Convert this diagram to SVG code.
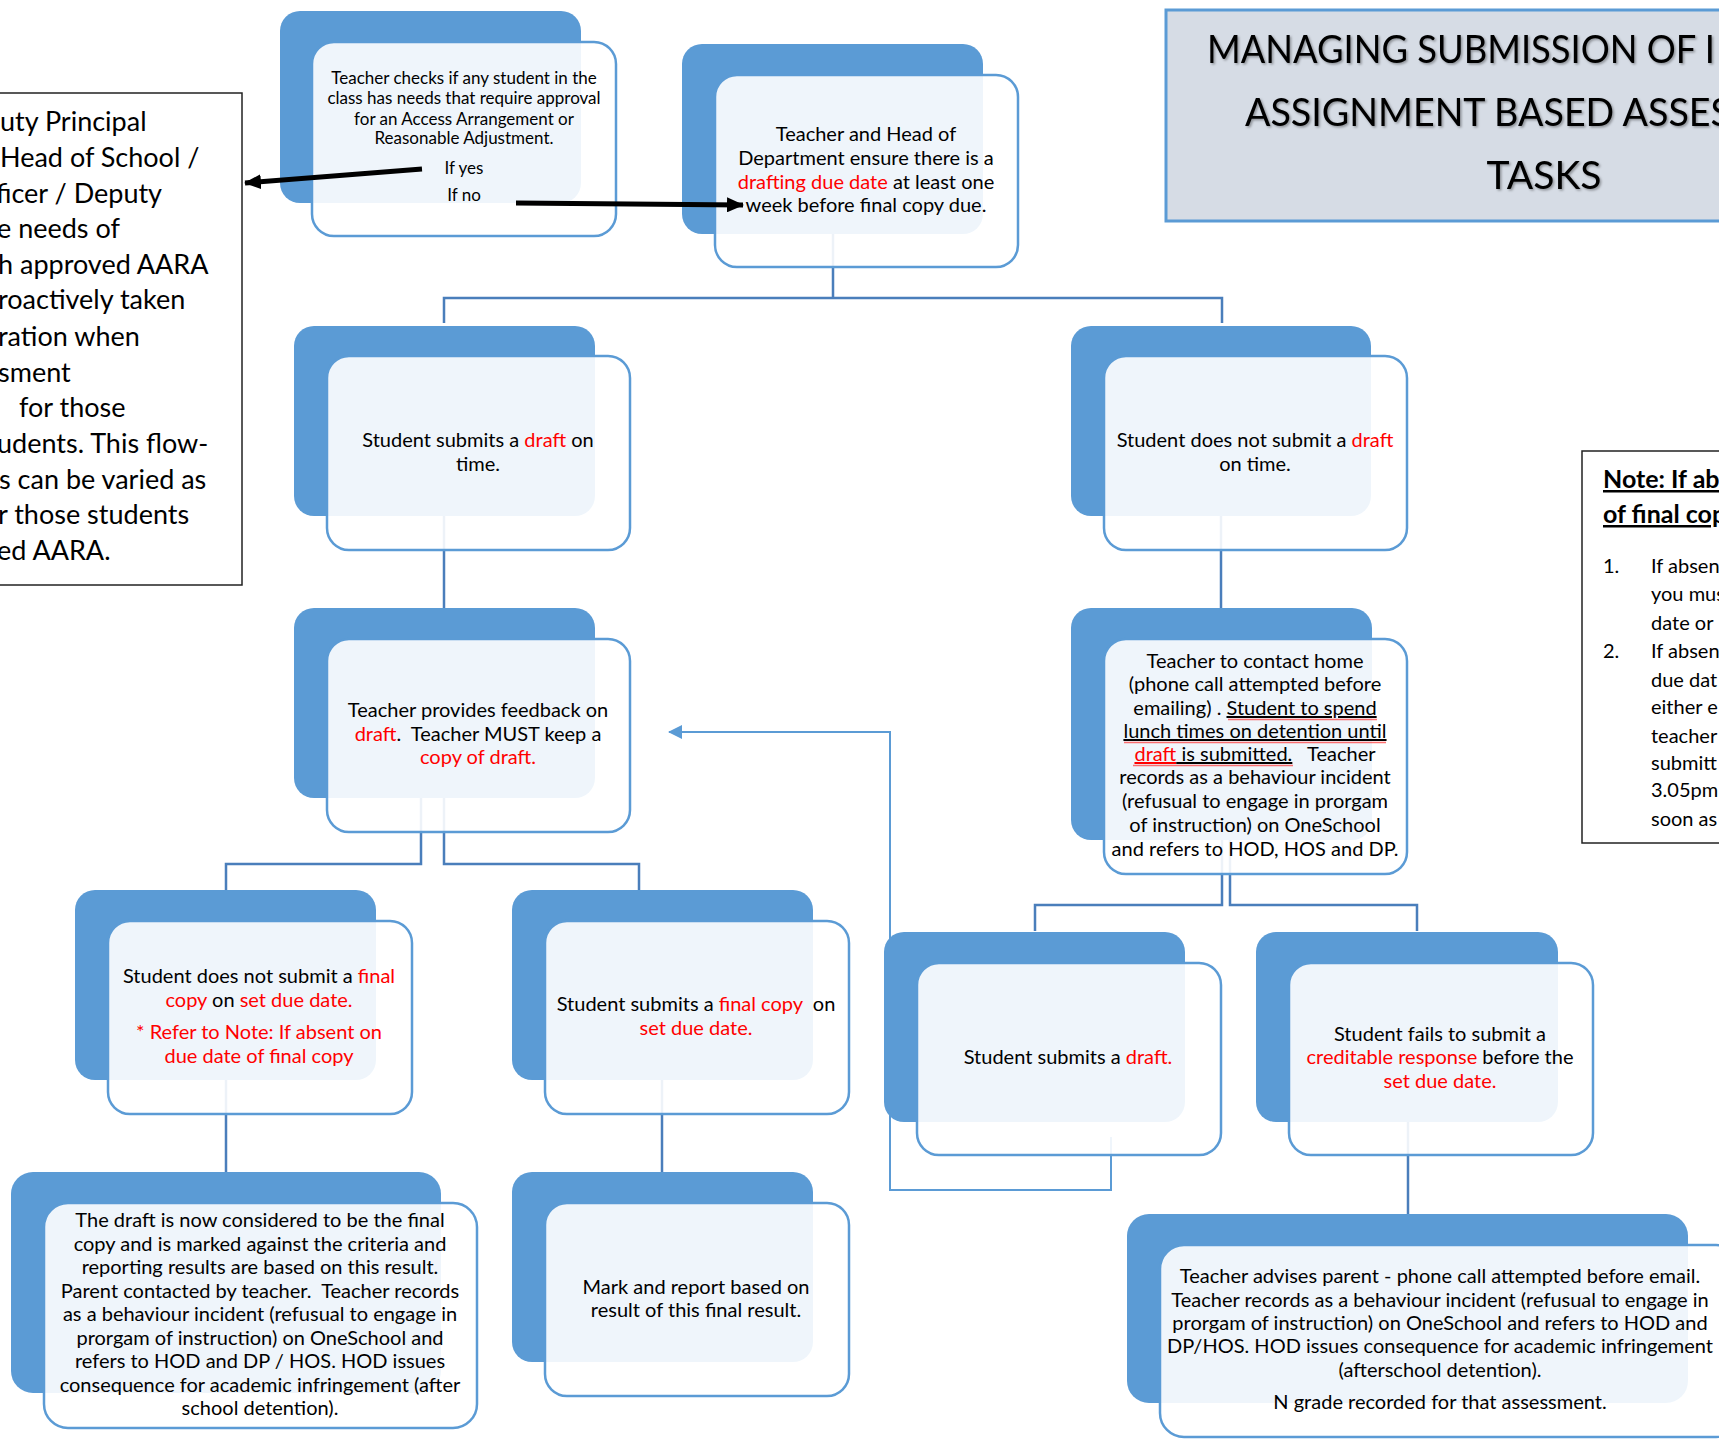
<svg xmlns="http://www.w3.org/2000/svg" width="1719" height="1439" viewBox="0 0 1719 1439">
<style>
.t{font-family:Lato,"Liberation Sans",sans-serif;fill:#000;text-anchor:middle}
.s17{font-size:17px}
.s20{font-size:20px}
.r{fill:#ff0000}
.back{fill:#5b9bd5}
.front{fill:#ffffff;fill-opacity:0.9;stroke:#5b9bd5;stroke-width:2.5}
.conn{fill:none;stroke:#4a7ebb;stroke-width:2.5}
.fb{fill:none;stroke:#5b9bd5;stroke-width:2}
.side{font-family:Lato,"Liberation Sans",sans-serif;fill:#000;font-size:27px}
.note{font-family:Lato,"Liberation Sans",sans-serif;fill:#000;font-size:20px}
.nh{font-family:Lato,"Liberation Sans",sans-serif;fill:#000;font-size:25px;font-weight:bold;text-decoration:underline}
.title{font-family:Lato,"Liberation Sans",sans-serif;fill:#000;font-size:39px}
</style>
<defs>
<marker id="blk" markerWidth="17" markerHeight="15" refX="16" refY="7.5" orient="auto" markerUnits="userSpaceOnUse" viewBox="0 0 17 15">
<path d="M0,0 L17,7.5 L0,15 z" fill="#000"/>
</marker>
<marker id="blu" markerWidth="14" markerHeight="14" refX="13" refY="7" orient="auto" markerUnits="userSpaceOnUse" viewBox="0 0 14 14">
<path d="M0,0 L14,7 L0,14 z" fill="#5b9bd5"/>
</marker>
<filter id="sh" x="-5%" y="-20%" width="110%" height="140%">
<feDropShadow dx="1.5" dy="1.5" stdDeviation="1" flood-color="#000" flood-opacity="0.35"/>
</filter>
</defs>
<rect width="1719" height="1439" fill="#ffffff"/>

<g id="side-note">
<rect x="-5" y="93" width="247" height="492" fill="#fff" stroke="#222" stroke-width="1.5"/>
<text class="side" x="0" y="131">uty Principal</text>
<text class="side" x="0" y="167">Head of School /</text>
<text class="side" x="-4" y="203">ficer / Deputy</text>
<text class="side" x="-3" y="238">e needs of</text>
<text class="side" x="-2" y="274">h approved AARA</text>
<text class="side" x="-2" y="309">roactively taken</text>
<text class="side" x="-2" y="346">ration when</text>
<text class="side" x="-2" y="382">sment</text>
<text class="side" x="19" y="417">for those</text>
<text class="side" x="-3" y="453">udents.  This flow-</text>
<text class="side" x="-1" y="489">s can be varied as</text>
<text class="side" x="-2" y="524">r those students</text>
<text class="side" x="-3" y="560">ed AARA.</text>
</g>

<g id="title">
<rect x="1166" y="10" width="570" height="211" fill="#d6dce5" stroke="#5b9bd5" stroke-width="3"/>
<g filter="url(#sh)">
<text class="title" x="1207" y="63" textLength="508" lengthAdjust="spacingAndGlyphs">MANAGING SUBMISSION OF I</text>
<text class="title" x="1245" y="126" textLength="486" lengthAdjust="spacingAndGlyphs">ASSIGNMENT BASED ASSES</text>
<text class="title" x="1544" y="189" text-anchor="middle">TASKS</text>
</g>
</g>

<g id="note">
<rect x="1582" y="451" width="160" height="392" fill="#fff" stroke="#222" stroke-width="1.5"/>
<text class="nh" x="1603" y="488">Note: If ab</text>
<text class="nh" x="1603" y="523">of final cop</text>
<text class="note" x="1603" y="573">1.</text>
<text class="note" x="1651" y="573">If absen</text>
<text class="note" x="1651" y="601">you mus</text>
<text class="note" x="1651" y="630">date or</text>
<text class="note" x="1603" y="658">2.</text>
<text class="note" x="1651" y="658">If absen</text>
<text class="note" x="1651" y="687">due dat</text>
<text class="note" x="1651" y="714">either e</text>
<text class="note" x="1651" y="743">teacher</text>
<text class="note" x="1651" y="770">submitt</text>
<text class="note" x="1651" y="797">3.05pm</text>
<text class="note" x="1651" y="826">soon as</text>
</g>

<g id="connectors">
<path class="conn" d="M833 234 V298 M444 323 V298 H1222 V323"/>
<path class="conn" d="M444 516 V608"/>
<path class="conn" d="M1221 516 V608"/>
<path class="conn" d="M421 798 V864 H226 V890"/>
<path class="conn" d="M444 798 V864 H639 V890"/>
<path class="conn" d="M1222 840 V905 H1035 V931"/>
<path class="conn" d="M1230 840 V905 H1417 V931"/>
<path class="conn" d="M226 1080 V1172"/>
<path class="conn" d="M662 1080 V1172"/>
<path class="conn" d="M1408 1122 V1214"/>
<path class="fb" d="M1111 1137 V1190 H890 V732 H669" marker-end="url(#blu)"/>
</g>

<g id="node-check">
<rect class="back" x="280" y="11" width="301" height="192" rx="20"/>
<rect class="front" x="312" y="42" width="304" height="194" rx="22"/>
<text class="t s17" x="464" y="84">Teacher checks if any student in the</text>
<text class="t s17" x="464" y="104">class has needs that require approval</text>
<text class="t s17" x="464" y="125">for an Access Arrangement or</text>
<text class="t s17" x="464" y="144">Reasonable Adjustment.</text>
<text class="t s17" x="464" y="174">If yes</text>
<text class="t s17" x="464" y="201">If no</text>
</g>

<g id="node-drafting">
<rect class="back" x="682" y="44" width="301" height="190" rx="20"/>
<rect class="front" x="715" y="75" width="303" height="192" rx="22"/>
<text class="t s20" x="866" y="141">Teacher and Head of</text>
<text class="t s20" x="866" y="165">Department ensure there is a</text>
<text class="t s20" x="866" y="189"><tspan class="r">drafting due date</tspan> at least one</text>
<text class="t s20" x="866" y="212">week before final copy due.</text>
</g>

<g id="arrows">
<path d="M422 169 L245 183" stroke="#000" stroke-width="5" fill="none" marker-end="url(#blk)"/>
<path d="M516 203 L743 205" stroke="#000" stroke-width="5" fill="none" marker-end="url(#blk)"/>
</g>

<g id="node-draft-ontime">
<rect class="back" x="294" y="326" width="301" height="190" rx="20"/>
<rect class="front" x="327" y="356" width="303" height="194" rx="22"/>
<text class="t s20" x="478" y="447">Student submits a <tspan class="r">draft</tspan> on</text>
<text class="t s20" x="478" y="471">time.</text>
</g>

<g id="node-no-draft">
<rect class="back" x="1071" y="326" width="300" height="190" rx="20"/>
<rect class="front" x="1104" y="356" width="303" height="194" rx="22"/>
<text class="t s20" x="1255" y="447">Student does not submit a <tspan class="r">draft</tspan></text>
<text class="t s20" x="1255" y="471">on time.</text>
</g>

<g id="node-feedback">
<rect class="back" x="294" y="608" width="301" height="190" rx="20"/>
<rect class="front" x="327" y="639" width="303" height="193" rx="22"/>
<text class="t s20" x="478" y="717">Teacher provides feedback on</text>
<text class="t s20" x="478" y="741" style="white-space:pre"><tspan class="r">draft</tspan>.  Teacher MUST keep a</text>
<text class="t s20 r" x="478" y="764">copy of draft.</text>
</g>

<g id="node-contact-home">
<rect class="back" x="1071" y="608" width="301" height="232" rx="20"/>
<rect class="front" x="1104" y="639" width="303" height="235" rx="22"/>
<text class="t s20" x="1255" y="668">Teacher to contact home</text>
<text class="t s20" x="1255" y="691">(phone call attempted before</text>
<text class="t s20" x="1255" y="715">emailing) . <tspan text-decoration="underline">Student to spend</tspan></text>
<text class="t s20" x="1255" y="738" text-decoration="underline">lunch times on detention until</text>
<text class="t s20" x="1255" y="761" style="white-space:pre"><tspan class="r" text-decoration="underline">draft</tspan><tspan text-decoration="underline"> is submitted.</tspan>   Teacher</text>
<text class="t s20" x="1255" y="784">records as a behaviour incident</text>
<text class="t s20" x="1255" y="808">(refusual to engage in prorgam</text>
<text class="t s20" x="1255" y="832">of instruction) on OneSchool</text>
<text class="t s20" x="1255" y="856">and refers to HOD, HOS and DP.</text>
<path d="M1228 719.5 H1377 M1124 742.5 H1386 M1133 765.5 H1293" stroke="#ff3333" stroke-opacity="0.7" stroke-width="1.5" fill="none"/>
</g>

<g id="node-no-final">
<rect class="back" x="75" y="890" width="301" height="190" rx="20"/>
<rect class="front" x="108" y="921" width="304" height="193" rx="22"/>
<text class="t s20" x="259" y="983">Student does not submit a <tspan class="r">final</tspan></text>
<text class="t s20" x="259" y="1007"><tspan class="r">copy</tspan> on <tspan class="r">set due date.</tspan></text>
<text class="t s20 r" x="259" y="1039">* Refer to Note: If absent on</text>
<text class="t s20 r" x="259" y="1063">due date of final copy</text>
</g>

<g id="node-final">
<rect class="back" x="512" y="890" width="301" height="190" rx="20"/>
<rect class="front" x="545" y="921" width="304" height="193" rx="22"/>
<text class="t s20" x="696" y="1011" style="white-space:pre">Student submits a <tspan class="r">final copy</tspan>  on</text>
<text class="t s20 r" x="696" y="1035">set due date.</text>
</g>

<g id="node-submits-draft">
<rect class="back" x="884" y="932" width="301" height="190" rx="20"/>
<rect class="front" x="917" y="963" width="304" height="192" rx="22"/>
<text class="t s20" x="1068" y="1064">Student submits a <tspan class="r">draft.</tspan></text>
</g>

<g id="node-fails">
<rect class="back" x="1256" y="932" width="302" height="190" rx="20"/>
<rect class="front" x="1289" y="963" width="304" height="192" rx="22"/>
<text class="t s20" x="1440" y="1041">Student fails to submit a</text>
<text class="t s20" x="1440" y="1064"><tspan class="r">creditable response</tspan> before the</text>
<text class="t s20 r" x="1440" y="1088">set due date.</text>
</g>

<g id="node-draft-final">
<rect class="back" x="11" y="1172" width="430" height="221" rx="22"/>
<rect class="front" x="44" y="1203" width="433" height="225" rx="24"/>
<text class="t s20" x="260" y="1227">The draft is now considered to be the final</text>
<text class="t s20" x="260" y="1250.5">copy and is marked against the criteria and</text>
<text class="t s20" x="260" y="1274">reporting results are based on this result.</text>
<text class="t s20" x="260" y="1297.5" style="white-space:pre">Parent contacted by teacher.  Teacher records</text>
<text class="t s20" x="260" y="1321">as a behaviour incident (refusual to engage in</text>
<text class="t s20" x="260" y="1344.5">prorgam of instruction) on OneSchool and</text>
<text class="t s20" x="260" y="1368">refers to HOD and DP / HOS. HOD issues</text>
<text class="t s20" x="260" y="1391.5">consequence for academic infringement (after</text>
<text class="t s20" x="260" y="1415">school detention).</text>
</g>

<g id="node-mark">
<rect class="back" x="512" y="1172" width="301" height="190" rx="20"/>
<rect class="front" x="545" y="1203" width="304" height="193" rx="22"/>
<text class="t s20" x="696" y="1294">Mark and report based on</text>
<text class="t s20" x="696" y="1317">result of this final result.</text>
</g>

<g id="node-advise-parent">
<rect class="back" x="1127" y="1214" width="561" height="189" rx="22"/>
<rect class="front" x="1160" y="1245" width="580" height="192" rx="24"/>
<text class="t s20" x="1440" y="1283">Teacher advises parent - phone call attempted before email.</text>
<text class="t s20" x="1440" y="1307">Teacher records as a behaviour incident (refusual to engage in</text>
<text class="t s20" x="1440" y="1330">prorgam of instruction) on OneSchool and refers to HOD and</text>
<text class="t s20" x="1440" y="1353">DP/HOS. HOD issues consequence for academic infringement</text>
<text class="t s20" x="1440" y="1377">(afterschool detention).</text>
<text class="t s20" x="1440" y="1409">N grade recorded for that assessment.</text>
</g>
</svg>
